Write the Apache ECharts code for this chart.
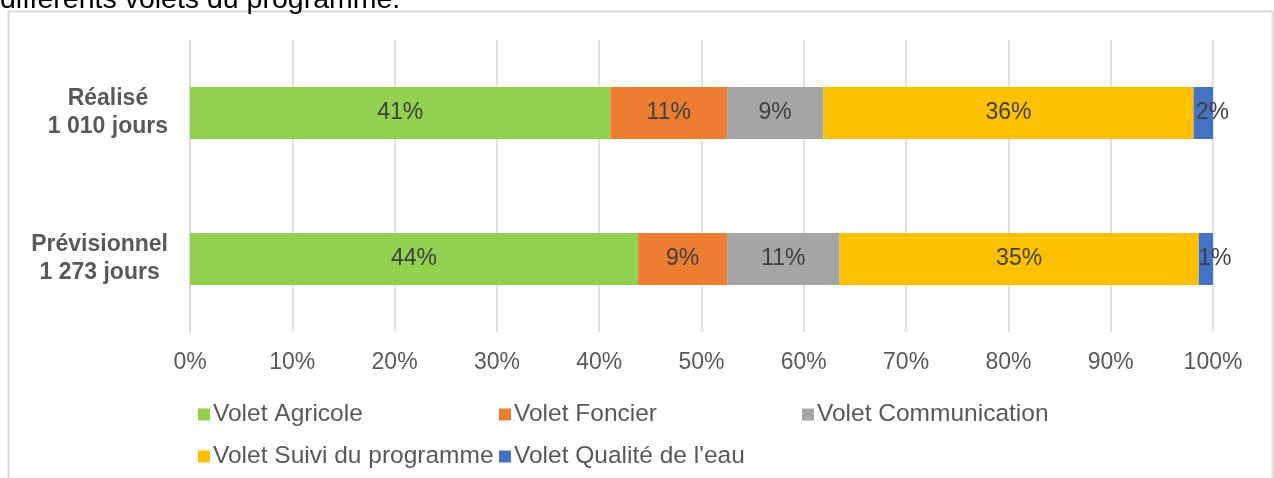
<!DOCTYPE html>
<html>
<head>
<meta charset="utf-8">
<script src="https://cdn.jsdelivr.net/npm/echarts@6/dist/echarts.min.js"></script>
<style>
  html, body { margin: 0; padding: 0; background: #ffffff; }
  #chart { width: 1274px; height: 478px; }
</style>
</head>
<body>
<div id="chart"></div>
<script>
// Répartition des jours par volet (en % du total de chaque ligne)
const categories = ['Réalisé\n1 010 jours', 'Prévisionnel\n1 273 jours'];
const seriesNames = [
  'Volet Agricole',
  'Volet Foncier',
  'Volet Communication',
  'Volet Suivi du programme',
  "Volet Qualité de l'eau"
];
const agricole = [41.1, 43.8];
const foncier = [11.4, 8.7];
const communication = [9.4, 11.0];
const suivi = [36.2, 35.1];
const qualite = [1.9, 1.4];
const xTickLabels = ['0%', '10%', '20%', '30%', '40%', '50%', '60%', '70%', '80%', '90%', '100%'];

const colors = ['#92D050', '#ED7D31', '#A5A5A5', '#FFC000', '#4472C4'];
const values = [agricole, foncier, communication, suivi, qualite];

const FONT = '"Liberation Sans", Arial, sans-serif';
const FS = 23;

const chart = echarts.init(document.getElementById('chart'), null, { renderer: 'canvas' });

const series = seriesNames.map((name, i) => ({
  name: name,
  type: 'bar',
  stack: 'total',
  barWidth: 52,
  data: values[i],
  itemStyle: { color: colors[i] },
  label: {
    show: true,
    position: 'inside',
    offset: i === 4 ? [9, 0] : [0, 0],
    formatter: p => Math.round(p.value) + '%',
    color: '#404040',
    fontFamily: FONT,
    fontSize: FS
  },
  emphasis: { disabled: true }
}));

// One legend block per entry, laid out on two rows
const legendPos = [
  { left: 193, top: 397 },
  { left: 494, top: 397 },
  { left: 797, top: 397 },
  { left: 193, top: 439 },
  { left: 494, top: 439 }
];
const legends = seriesNames.map((name, i) => ({
  data: [name],
  left: legendPos[i].left,
  top: legendPos[i].top,
  icon: 'rect',
  itemWidth: 12,
  itemHeight: 12,
  selectedMode: false,
  textStyle: { color: '#595959', fontFamily: FONT, fontSize: 24.5, padding: [0, 0, 0, -2] }
}));

chart.setOption({
  animation: false,
  backgroundColor: '#ffffff',
  color: colors,
  graphic: [
    {
      type: 'rect',
      shape: { x: 8.5, y: 11.5, width: 1264, height: 480 },
      style: { fill: 'none', stroke: '#d9d9d9', lineWidth: 2 },
      silent: true,
      z: -10
    },
    {
      type: 'text',
      left: 0,
      top: -14,
      style: {
        text: 'différents volets du programme.',
        fill: '#000000',
        font: '28.5px ' + FONT
      },
      silent: true
    }
  ],
  legend: legends,
  grid: { left: 190, right: 61, top: 40, bottom: 146, containLabel: false },
  xAxis: {
    type: 'value',
    min: 0,
    max: 100,
    interval: 10,
    axisLine: { show: false },
    axisTick: { show: false },
    splitLine: { show: true, lineStyle: { color: '#d9d9d9', width: 1.5 } },
    axisLabel: {
      color: '#595959',
      fontFamily: FONT,
      fontSize: FS,
      margin: 19,
      formatter: (v) => xTickLabels[Math.round(v / 10)]
    }
  },
  yAxis: {
    type: 'category',
    data: categories,
    inverse: true,
    axisLine: { show: true, lineStyle: { color: '#d9d9d9', width: 1.5 } },
    axisTick: { show: false },
    axisLabel: {
      margin: 22,
      align: 'right',
      formatter: (v) => v.split('\n').map(s => '{c|' + s + '}').join('\n'),
      rich: {
        c: {
          align: 'center',
          color: '#595959',
          fontFamily: FONT,
          fontSize: FS,
          fontWeight: 'bold',
          lineHeight: 28
        }
      }
    }
  },
  series: series
});
</script>
</body>
</html>
